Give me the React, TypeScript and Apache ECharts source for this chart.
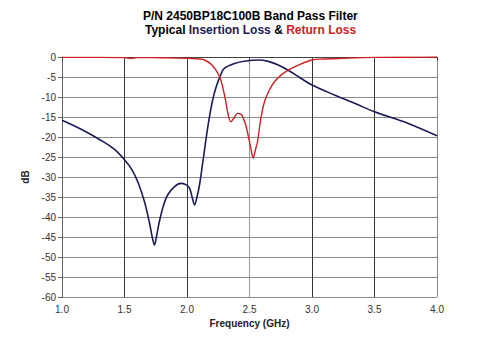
import React, { useEffect, useRef } from "react";
import * as echarts from "echarts";

const insFreq = [1.0, 1.15, 1.31, 1.42, 1.5, 1.56, 1.61, 1.66, 1.70, 1.725, 1.74, 1.755, 1.78, 1.81, 1.845, 1.9, 1.95, 1.99, 2.02, 2.045, 2.06, 2.08, 2.10, 2.13, 2.165, 2.2, 2.23, 2.27, 2.30, 2.38, 2.47, 2.57, 2.65, 2.73, 2.82, 2.91, 3.0, 3.18, 3.35, 3.5, 3.77, 4.0];
const insLoss = [-15.8, -18.0, -20.8, -23.1, -25.7, -28.2, -31.5, -36.2, -41.5, -45.5, -47, -45, -41, -37.3, -34.5, -32.4, -31.6, -31.9, -32.8, -35.5, -37, -35.0, -32, -25.5, -17.8, -11.5, -7.8, -4.4, -2.8, -1.6, -1.0, -0.75, -1.1, -2.0, -3.5, -5.3, -7.0, -9.5, -11.7, -13.7, -16.6, -19.7];

const retFreq = [1.0, 1.3, 1.5, 1.55, 1.6, 1.8, 2.0, 2.1, 2.14, 2.2, 2.26, 2.30, 2.33, 2.35, 2.375, 2.405, 2.43, 2.445, 2.47, 2.50, 2.515, 2.53, 2.545, 2.565, 2.59, 2.62, 2.66, 2.70, 2.75, 2.81, 2.9, 3.0, 3.1, 3.26, 3.5, 3.8, 4.0];
const retLoss = [-0.1, -0.1, -0.15, -0.35, -0.15, -0.2, -0.3, -0.5, -0.75, -2.0, -4.9, -9.5, -14.5, -16.2, -15.3, -14.1, -14.3, -14.9, -17.0, -21.2, -23.5, -25.3, -23.5, -21.0, -15.5, -11.2, -8.2, -6.2, -4.6, -3.3, -1.9, -0.75, -0.5, -0.3, -0.1, -0.05, 0];

const xTicks = [1.0, 1.5, 2.0, 2.5, 3.0, 3.5, 4.0];

const titleLine1 = "P/N 2450BP18C100B Band Pass Filter";

export default function App() {
  const ref = useRef<HTMLDivElement>(null);
  useEffect(() => {
    if (!ref.current) return;
    const chart = echarts.init(ref.current, null, { renderer: "svg" });
    const ins = insFreq.map((f, i) => [f, insLoss[i]]);
    const ret = retFreq.map((f, i) => [f, retLoss[i]]);
    chart.setOption({
      animation: false,
      backgroundColor: "#ffffff",
      grid: { left: 62, right: 63, top: 57, bottom: 47 },
      graphic: [
        {
          type: "text",
          left: 240 - 97,
          top: 10,
          style: {
            text: titleLine1,
            font: "bold 12px 'Liberation Sans', Arial, sans-serif",
            fill: "#000",
          },
        },
        {
          type: "text",
          left: 145,
          top: 24,
          style: {
            rich: {
              b: { font: "bold 12px 'Liberation Sans', Arial, sans-serif", fill: "#000" },
              n: { font: "bold 12px 'Liberation Sans', Arial, sans-serif", fill: "#1b1b5a" },
              r: { font: "bold 12px 'Liberation Sans', Arial, sans-serif", fill: "#cc2222" },
            },
            text: "{b|Typical }{n|Insertion Loss }{b|& }{r|Return Loss}",
          },
        },
      ],
      xAxis: {
        type: "value",
        min: 1,
        max: 4,
        interval: 0.5,
        name: "Frequency (GHz)",
        nameLocation: "middle",
        nameGap: 20,
        nameTextStyle: { fontFamily: "'Liberation Sans', Arial, sans-serif", fontWeight: "bold", fontSize: 10, color: "#222" },
        axisLine: { lineStyle: { color: "#444", width: 1 } },
        axisTick: { show: true, length: 4, lineStyle: { color: "#444" } },
        axisLabel: {
          formatter: (v: number) => v.toFixed(1),
          fontFamily: "'Liberation Sans', Arial, sans-serif",
          fontSize: 10,
          color: "#333",
          margin: 7,
          customValues: xTicks,
        },
        splitLine: {
          show: true,
          lineStyle: { color: ["#333", "#333", "#333", "#999", "#333", "#333", "#888"], width: 1 },
        },
      },
      yAxis: {
        type: "value",
        min: -60,
        max: 0,
        interval: 5,
        name: "dB",
        nameLocation: "middle",
        nameGap: 26,
        nameRotate: 90,
        nameTextStyle: { fontFamily: "'Liberation Sans', Arial, sans-serif", fontWeight: "bold", fontSize: 10, color: "#222" },
        axisLine: { show: true, lineStyle: { color: "#666", width: 1 } },
        axisTick: { show: true, length: 4, lineStyle: { color: "#666" } },
        axisLabel: {
          fontFamily: "'Liberation Sans', Arial, sans-serif",
          fontSize: 10,
          color: "#333",
          margin: 6,
        },
        splitLine: {
          show: true,
          lineStyle: { color: "#8a8a8a", width: 1 },
        },
      },
      series: [
        {
          name: "Insertion Loss",
          type: "line",
          data: ins,
          smooth: 0.35,
          showSymbol: false,
          lineStyle: { color: "#1b1b5a", width: 1.6 },
          z: 3,
        },
        {
          name: "Return Loss",
          type: "line",
          data: ret,
          smooth: 0.35,
          showSymbol: false,
          lineStyle: { color: "#cc2222", width: 1.4 },
          z: 4,
        },
      ],
    });
    return () => chart.dispose();
  }, []);
  return <div ref={ref} style={{ width: 500, height: 344, position: "absolute", left: 0, top: 0 }} />;
}
